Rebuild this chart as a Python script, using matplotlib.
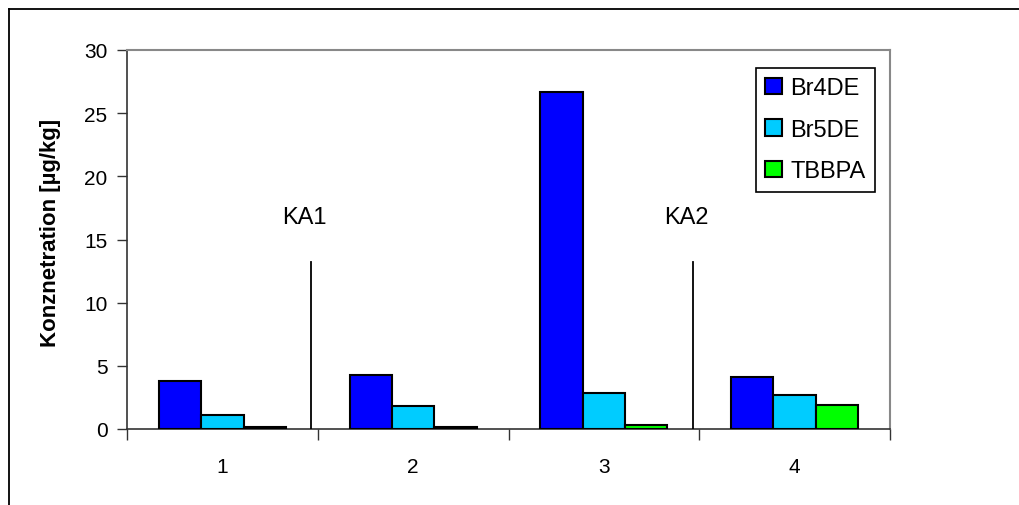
import numpy as np
import matplotlib
matplotlib.use("Agg")
import matplotlib.pyplot as plt
from matplotlib.lines import Line2D

plt.rcParams['font.family'] = ['Liberation Sans', 'DejaVu Sans']

# data
categories = ['1', '2', '3', '4']
series_names = ['Br4DE', 'Br5DE', 'TBBPA']
br4de = [3.8, 4.3, 26.7, 4.1]
br5de = [1.1, 1.85, 2.85, 2.7]
tbbpa = [0.15, 0.15, 0.3, 1.9]
colors = ['#0000FF', '#00CCFF', '#00FF00']
# plant separators and their labels
sep_x = [0.466, 2.466]
sep_top = 13.25
sep_labels = ['KA1', 'KA2']
label_x = [0.43, 2.43]
label_y = 16.8

W, H = 1019, 506
fig = plt.figure(figsize=(W / 100, H / 100), dpi=100)
ax = fig.add_axes([127 / W, 1 - 430 / H, (890 - 127) / W, 379 / H])

x = np.arange(len(categories))
w = 1 / 4.5
for i, (vals, name) in enumerate(zip([br4de, br5de, tbbpa], series_names)):
    ax.bar(x + (i - 1) * w, vals, width=w, color=colors[i], edgecolor='black',
           linewidth=1.5, label=name, zorder=3)

for sx, lab, lx in zip(sep_x, sep_labels, label_x):
    ax.plot([sx, sx], [0, sep_top], color='black', lw=1.3, zorder=4)
    ax.text(lx, label_y, lab, ha='center', va='center', fontsize=17)

ax.set_xlim(-0.5, 3.5)
ax.set_ylim(0, 30)
ax.set_yticks(range(0, 31, 5))
ax.set_xticks(x)
ax.set_xticklabels(categories)
ax.set_xticks(np.arange(-0.5, 4, 1), minor=True)
ax.tick_params(axis='x', which='major', length=0, pad=20, labelsize=15)
ax.tick_params(axis='x', which='minor', length=8, width=1, color='#333333')
ax.tick_params(axis='y', length=7, width=1, pad=7, labelsize=15, color='#333333')

for s in ['left', 'bottom']:
    ax.spines[s].set_color('#333333')
    ax.spines[s].set_linewidth(1.2)
for s in ['top', 'right']:
    ax.spines[s].set_color('#888888')
    ax.spines[s].set_linewidth(1.5)

fig.text(51 / W, 1 - 233 / H, 'Konznetration [µg/kg]', rotation=90, ha='center',
         va='center', fontsize=16, fontweight='bold')

leg = ax.legend(loc='upper left', bbox_to_anchor=(756 / W, 1 - 69 / H),
                bbox_transform=fig.transFigure, borderaxespad=0, fontsize=17,
                handlelength=0.7, handleheight=0.7, handletextpad=0.35,
                labelspacing=0.82, fancybox=False, framealpha=1, borderpad=0.4)
leg.get_frame().set_edgecolor('black')
leg.get_frame().set_linewidth(1.2)

# outer chart frame (right and bottom edges are cut off)
fig.add_artist(Line2D([9 / W, 9 / W], [0, 1 - 10 / H], color='black', lw=1.3,
                      transform=fig.transFigure))
fig.add_artist(Line2D([9 / W, 1], [1 - 10 / H, 1 - 10 / H], color='black', lw=1.3,
                      transform=fig.transFigure))

fig.savefig('out.png', dpi=100)
